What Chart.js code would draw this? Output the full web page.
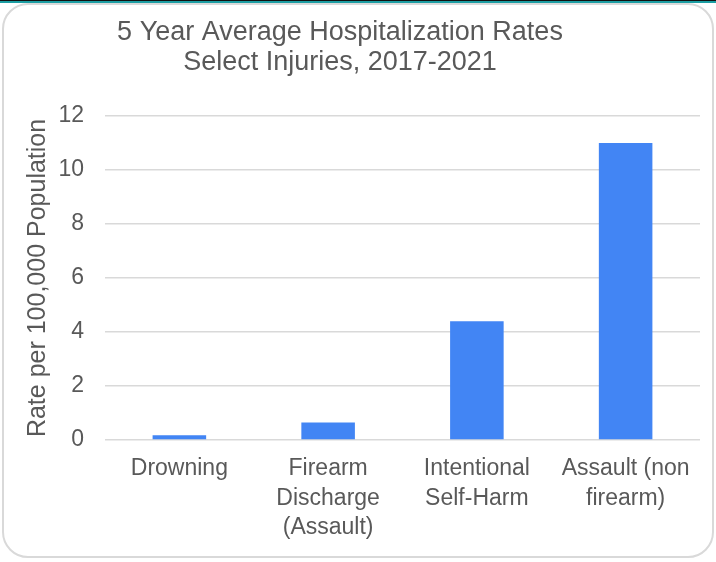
<!DOCTYPE html>
<html>
<head>
<meta charset="utf-8">
<script src="https://cdn.jsdelivr.net/npm/chart.js@4"></script>
<style>
  html, body { margin: 0; padding: 0; background: #fff; }
  body { width: 716px; height: 562px; position: relative; overflow: hidden; }
  .topbar { position: absolute; left: 0; top: 0; width: 716px; height: 1px; background: #111; border-bottom: 2px solid #1c9ea3; }
  .card { position: absolute; left: 2px; top: 3px; width: 708px; height: 551px; border: 2px solid #d9d9d9; border-radius: 26px; background: #fff; }
  .wrap { position: absolute; left: 0; top: 0; width: 716px; height: 562px; }
</style>
</head>
<body>
<div class="topbar"></div>
<div class="card"></div>
<div class="wrap"><canvas id="chart" width="716" height="562"></canvas></div>
<script>
var categories = [
    'Drowning',
    ['Firearm', 'Discharge', '(Assault)'],
    ['Intentional', 'Self-Harm'],
    ['Assault (non', 'firearm)']
];
var rates = [0.18, 0.65, 4.4, 11.0];
var yTicks = [0, 2, 4, 6, 8, 10, 12];

var textColor = '#595959';
var fontFamily = '"Liberation Sans", Arial, sans-serif';

// the title sits a little left of the canvas centre
var titleShift = {
    id: 'titleShift',
    afterLayout: function (chart) {
        var t = chart.titleBlock;
        if (t) {
            t.left -= 20;
            t.right -= 20;
        }
    }
};

Chart.defaults.font.family = fontFamily;
Chart.defaults.color = textColor;

var ctx = document.getElementById('chart').getContext('2d');
var chart = new Chart(ctx, {
    type: 'bar',
    data: {
        labels: categories,
        datasets: [{
            label: 'Rate',
            data: rates,
            backgroundColor: '#4285f4',
            borderWidth: 0,
            barPercentage: 0.36,
            categoryPercentage: 1
        }]
    },
    plugins: [titleShift],
    options: {
        responsive: false,
        animation: false,
        layout: {
            padding: { left: 20, right: 16, top: 18, bottom: 0 }
        },
        plugins: {
            legend: { display: false },
            tooltip: { enabled: false },
            title: {
                display: true,
                text: ['5 Year Average Hospitalization Rates', 'Select Injuries, 2017-2021'],
                color: textColor,
                font: { size: 27, weight: 'normal', lineHeight: 1.11 },
                padding: { top: 0, bottom: 38 }
            }
        },
        scales: {
            x: {
                grid: { display: false },
                border: { display: false },
                ticks: {
                    color: textColor,
                    font: { size: 23, lineHeight: 1.28 },
                    padding: 6,
                    maxRotation: 0,
                    autoSkip: false
                },
                afterFit: function (axis) {
                    axis.height = 122;
                }
            },
            y: {
                min: 0,
                max: 12,
                afterBuildTicks: function (axis) {
                    axis.ticks = yTicks.map(function (v) { return { value: v }; });
                },
                grid: { color: '#d9d9d9', lineWidth: 1.5, drawTicks: false },
                border: { display: false },
                ticks: {
                    color: textColor,
                    font: { size: 23 },
                    padding: 21
                },
                title: {
                    display: true,
                    text: 'Rate per 100,000 Population',
                    color: textColor,
                    font: { size: 25, lineHeight: 1.2 },
                    padding: { top: 3, bottom: 6 }
                },
                afterFit: function (axis) {
                    axis.width = 85;
                }
            }
        }
    }
});
</script>
</body>
</html>
